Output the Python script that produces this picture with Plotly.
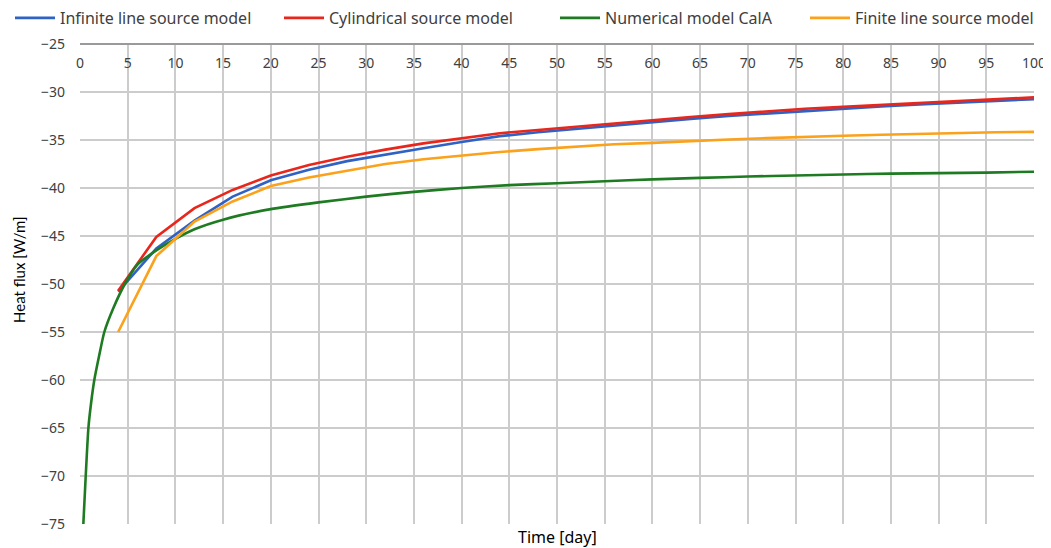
import plotly.graph_objects as go

days4 = [4, 8, 12, 16, 20, 24, 28, 32, 36, 40, 44, 48, 52, 56, 60, 64, 68, 72, 76, 80, 84, 88, 92, 96, 100]

infinite_line = [-50.8, -46.3, -43.4, -40.9, -39.2, -38.1, -37.2, -36.5, -35.85, -35.2, -34.6, -34.2,
                 -33.85, -33.5, -33.1, -32.8, -32.5, -32.25, -31.95, -31.75, -31.5, -31.3, -31.1, -30.9, -30.75]
cylindrical = [-50.7, -45.1, -42.1, -40.2, -38.7, -37.6, -36.75, -36.0, -35.35, -34.8, -34.3, -33.95,
               -33.6, -33.3, -32.9, -32.6, -32.3, -32.0, -31.75, -31.55, -31.35, -31.1, -30.9, -30.75, -30.55]
finite_line = [-55.0, -47.1, -43.5, -41.4, -39.8, -38.9, -38.2, -37.5, -37.0, -36.6, -36.25, -35.95,
               -35.7, -35.45, -35.3, -35.1, -34.95, -34.8, -34.65, -34.55, -34.45, -34.35, -34.3, -34.2, -34.15]

num_days = [0.35, 0.6, 0.88, 1.15, 1.5, 2.0, 2.55, 3.5, 4.7, 6, 8, 10, 12, 15, 20, 25, 30, 35, 40, 45,
            50, 55, 60, 65, 70, 75, 80, 85, 90, 95, 100]
numerical = [-75, -70, -65, -62.5, -60, -57.5, -55, -52.5, -50, -48, -46.5, -45.3, -44.3, -43.3, -42.2,
             -41.5, -40.9, -40.4, -40.0, -39.7, -39.5, -39.3, -39.1, -38.95, -38.8, -38.7, -38.6, -38.5,
             -38.45, -38.4, -38.3]

x_ticks = list(range(0, 101, 5))
y_ticks = list(range(-75, -24, 5))

font_family = "Noto Sans, Open Sans, sans-serif"

series = [
    ("Infinite line source model", days4, infinite_line, "#2F62C4", "linear", "legend"),
    ("Cylindrical source model", days4, cylindrical, "#E8261B", "linear", "legend2"),
    ("Numerical model CalA", num_days, numerical, "#1E7B22", "spline", "legend3"),
    ("Finite line source model", days4, finite_line, "#FBA11A", "linear", "legend4"),
]

fig = go.Figure()
for name, xs, ys, color, shape, leg in series:
    line = dict(color=color, width=2.6, shape=shape)
    if shape == "spline":
        line["smoothing"] = 0.6
    fig.add_trace(go.Scatter(x=xs, y=ys, mode="lines", name=name, line=line, legend=leg))

W, H = 1043, 540
legend_x = [2, 271, 547, 797]
legend_common = dict(orientation="h", xref="container", yref="container", y=1 - 10 / H,
                     xanchor="left", yanchor="middle", font=dict(size=16, color="#404040",
                                                                 family=font_family),
                     bgcolor="rgba(0,0,0,0)", itemwidth=40)

fig.update_layout(
    width=W, height=H,
    margin=dict(l=72, r=17, t=36, b=24, autoexpand=False),
    paper_bgcolor="white", plot_bgcolor="white",
    font=dict(family=font_family, size=14, color="#404040"),
    showlegend=True,
    legend=dict(x=legend_x[0] / W, **legend_common),
    legend2=dict(x=legend_x[1] / W, **legend_common),
    legend3=dict(x=legend_x[2] / W, **legend_common),
    legend4=dict(x=legend_x[3] / W, **legend_common),
    xaxis=dict(range=[0, 100], tickvals=x_ticks, side="bottom", anchor="free", position=1,
               showgrid=True, gridcolor="#CCCCCC", gridwidth=1.5, showline=True,
               linecolor="#9A9A9A", linewidth=1.5, ticks="", zeroline=False,
               tickfont=dict(size=14, color="#404040"), ticklabelstandoff=6),
    yaxis=dict(range=[-75, -25], tickvals=y_ticks, showgrid=True, gridcolor="#CCCCCC", gridwidth=1.5,
               showline=False, ticks="", zeroline=False, ticklabelstandoff=14,
               tickfont=dict(size=14, color="#404040")),
    annotations=[
        dict(text="Time [day]", xref="paper", yref="paper", x=0.5, y=-0.027,
             xanchor="center", yanchor="middle", showarrow=False,
             font=dict(size=16, color="#000000", family=font_family)),
        dict(text="Heat flux [W/m]", xref="paper", yref="paper", x=-61 / 954, y=(516 - 261) / 480,
             xanchor="center", yanchor="middle", showarrow=False, textangle=-90,
             font=dict(size=15, color="#000000", family="Lato")),
    ],
)

fig.write_html("out.html")
